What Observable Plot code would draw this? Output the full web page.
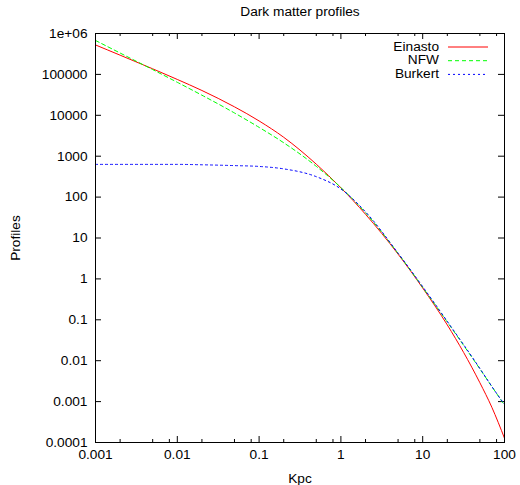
<!DOCTYPE html>
<html>
<head>
<meta charset="utf-8">
<script src="https://cdn.jsdelivr.net/npm/d3@7"></script>
<script src="https://cdn.jsdelivr.net/npm/@observablehq/plot@0.6"></script>
<style>
  html, body { margin: 0; padding: 0; background: #fff; }
  #chart svg { display: block; }
</style>
</head>
<body>
<div id="chart"></div>
<script>
const title = "Dark matter profiles";
const xLabel = "Kpc";
const yLabel = "Profiles";

const kpc = [0.001, 0.002, 0.005, 0.01, 0.02, 0.05, 0.1, 0.2, 0.5, 1, 2, 5, 10, 20, 50, 70, 100];
const einasto = [525000, 295000, 137000, 75300, 40400, 16100, 7280, 2900, 638, 169, 38.0, 4.03, 0.598, 0.0748, 0.00289, 0.000728, 0.000127];
const nfw = [676000, 333000, 131000, 64100, 31000, 11400, 5070, 2130, 565, 171, 41.4, 4.19, 0.622, 0.0881, 0.00630, 0.00234, 0.000820];
const burkert = [631, 631, 631, 631, 617, 589, 562, 490, 316, 158, 43.6, 4.27, 0.646, 0.0912, 0.00646, 0.00234, 0.000851];

const seriesNames = ["Einasto", "NFW", "Burkert"];
const seriesColors = ["#ff0000", "#00ff00", "#0000ff"];
const seriesDash = [null, "4,3", "2,3"];

const xTicks = [0.001, 0.01, 0.1, 1, 10, 100];
const xTickLabels = ["0.001", "0.01", "0.1", "1", "10", "100"];
const xMinorTicks = [0.002, 0.005, 0.008, 0.02, 0.05, 0.08, 0.2, 0.5, 0.8, 2, 5, 8, 20, 50, 80];
const yTicks = [1e6, 1e5, 1e4, 1e3, 1e2, 1e1, 1, 0.1, 0.01, 0.001, 0.0001];
const yTickLabels = ["1e+06", "100000", "10000", "1000", "100", "10", "1", "0.1", "0.01", "0.001", "0.0001"];

const allSeries = [einasto, nfw, burkert];
const rows = [];
allSeries.forEach((vals, s) => vals.forEach((v, i) => rows.push({series: seriesNames[s], x: kpc[i], y: v})));

const W = 520, H = 485;
const mTop = 33, mRight = 16, mBottom = 43, mLeft = 95;
const innerW = W - mLeft - mRight, innerH = H - mTop - mBottom;
const FONT = "'Liberation Sans', Arial, sans-serif";
const FS = 13.7;

const lineMarks = seriesNames.map((name, s) =>
  Plot.line(rows.filter(r => r.series === name), {
    x: "x", y: "y", stroke: seriesColors[s], strokeWidth: 1,
    strokeDasharray: seriesDash[s], curve: "monotone-x", clip: true
  })
);

const chart = Plot.plot({
  width: W, height: H,
  marginTop: mTop, marginRight: mRight, marginBottom: mBottom, marginLeft: mLeft,
  style: {fontFamily: FONT, fontSize: FS + "px", color: "#000", background: "#fff"},
  x: {type: "log", domain: [0.001, 100]},
  y: {type: "log", domain: [1e-4, 1e6]},
  marks: [
    Plot.axisX({ticks: xTicks, tickFormat: d => xTickLabels[xTicks.indexOf(d)], tickSize: 0, tickPadding: 7,
      label: xLabel, labelAnchor: "center", labelArrow: "none", labelOffset: 40, fontSize: FS}),
    Plot.axisY({ticks: yTicks, tickFormat: d => yTickLabels[yTicks.indexOf(d)], tickSize: 0, tickPadding: 8,
      label: yLabel, labelAnchor: "center", labelArrow: "none", labelOffset: 85, fontSize: FS}),
    // inward ticks, gnuplot style, on all four sides
    Plot.tickX(xTicks, {x: d => d, insetTop: innerH - 6, stroke: "#000"}),
    Plot.tickX(xTicks, {x: d => d, insetBottom: innerH - 6, stroke: "#000"}),
    Plot.tickX(xMinorTicks, {x: d => d, insetTop: innerH - 3, stroke: "#000"}),
    Plot.tickX(xMinorTicks, {x: d => d, insetBottom: innerH - 3, stroke: "#000"}),
    Plot.tickY(yTicks, {y: d => d, insetRight: innerW - 6, stroke: "#000"}),
    Plot.tickY(yTicks, {y: d => d, insetLeft: innerW - 6, stroke: "#000"}),
    ...lineMarks,
    Plot.frame({stroke: "#000", strokeWidth: 1}),
    Plot.text([title], {frameAnchor: "top", dy: -27, fontSize: FS, fill: "#000"})
  ]
});

// legend (gnuplot key, top-right inside the frame)
const svg = d3.select(chart);
const key = svg.append("g").attr("font-family", FONT).attr("font-size", FS);
seriesNames.forEach((name, i) => {
  const yy = 47 + i * 13.7;
  key.append("text").attr("x", 439).attr("y", yy).attr("text-anchor", "end")
    .attr("dominant-baseline", "middle").attr("fill", "#000").text(name);
  key.append("line").attr("x1", 448).attr("x2", 488).attr("y1", yy).attr("y2", yy)
    .attr("stroke", seriesColors[i]).attr("stroke-width", 1)
    .attr("stroke-dasharray", seriesDash[i]);
});

document.getElementById("chart").appendChild(chart);
</script>
</body>
</html>
